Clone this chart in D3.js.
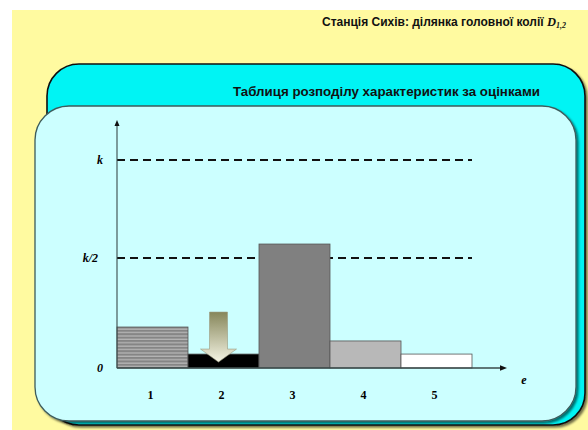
<!DOCTYPE html>
<html><head><meta charset="utf-8">
<script src="https://cdn.jsdelivr.net/npm/d3@7/dist/d3.min.js"></script>
<style>html,body{margin:0;padding:0;background:#fff}</style>
</head><body><svg id="c" width="588" height="430"></svg>
<script>
const categories = ["1","2","3","4","5"];
const values = [0.197, 0.067, 0.596, 0.130, 0.067]; // in units of k
const barFills = ["stripe","#000000","#808080","#b8b8b8","#ffffff"];
const tickValues = [0, 0.529, 1];
const tickLabels = ["0","k/2","k"];
const dashedLevels = [0.529, 1];
const title = "Станція Сихів: ділянка головної колії ";
const subtitle = "Таблиця розподілу характеристик за оцінками";

const svg = d3.select("#c");
const defs = svg.append("defs");
const pat = defs.append("pattern").attr("id","stripes").attr("patternUnits","userSpaceOnUse")
  .attr("width",10).attr("height",3.4);
pat.append("rect").attr("width",10).attr("height",3.4).attr("fill","#858585");
pat.append("rect").attr("y",2.2).attr("width",10).attr("height",1).attr("fill","#c4c4c4");
const grad = defs.append("linearGradient").attr("id","arr").attr("x1",0).attr("y1",0).attr("x2",0).attr("y2",1);
grad.append("stop").attr("offset","0").attr("stop-color","#86865a");
grad.append("stop").attr("offset","1").attr("stop-color","#f4f4e4");
const sh = defs.append("filter").attr("id","sh").attr("x","-5%").attr("y","-5%").attr("width","110%").attr("height","115%");
sh.append("feDropShadow").attr("dx",2).attr("dy",2).attr("stdDeviation",1.2).attr("flood-color","#000").attr("flood-opacity",0.55);

// background
svg.append("rect").attr("x",12).attr("y",10).attr("width",576).attr("height",420).attr("fill","#fffaa0");
const tt = svg.append("text").attr("x",566).attr("y",26).attr("text-anchor","end")
  .attr("font-family","Liberation Sans, Arial, sans-serif").attr("font-weight","bold").attr("font-size",12).attr("fill","#111");
tt.append("tspan").text(title);
tt.append("tspan").attr("font-family","Liberation Serif, serif").attr("font-style","italic").attr("font-size",12.5).text("D");
tt.append("tspan").attr("font-family","Liberation Serif, serif").attr("font-style","italic").attr("font-size",8).attr("dy",2).text("1,2");

// outer cyan box
svg.append("rect").attr("x",47).attr("y",64).attr("width",538).attr("height",361).attr("rx",32)
  .attr("fill","#00f4f4").attr("stroke","#111").attr("stroke-width",1.6).attr("filter","url(#sh)");
svg.append("text").attr("x",233).attr("y",96)
  .attr("font-family","Liberation Sans, Arial, sans-serif").attr("font-weight","bold").attr("font-size",12.5)
  .attr("textLength",307).attr("lengthAdjust","spacingAndGlyphs")
  .attr("fill","#111").text(subtitle);
// inner box
svg.append("rect").attr("x",35).attr("y",106).attr("width",541).attr("height",315).attr("rx",34)
  .attr("fill","#ccffff").attr("stroke","#3d5c5c").attr("stroke-width",1.3).attr("filter","url(#sh)");

// scales
const x = d3.scaleBand().domain(categories).range([117, 472]).padding(0);
const y = d3.scaleLinear().domain([0,1]).range([368,160]);

// dashed levels
svg.selectAll(".dl").data(dashedLevels).join("line")
  .attr("x1",x.range()[0]).attr("x2",x.range()[1]).attr("y1",d=>y(d)).attr("y2",d=>y(d))
  .attr("stroke","#111").attr("stroke-width",2).attr("stroke-dasharray","8,5");

// bars
svg.selectAll(".bar").data(values).join("rect")
  .attr("x",(d,i)=>x(categories[i])).attr("width",x.bandwidth())
  .attr("y",d=>y(d)).attr("height",d=>y(0)-y(d))
  .attr("fill",(d,i)=>barFills[i]==="stripe"?"url(#stripes)":barFills[i])
  .attr("stroke","#555").attr("stroke-width",0.8);

// arrow over bar 2
const cx = x("2") + x.bandwidth()/2 - 5;
const tipY = y(values[1]) + 8;
const arrowPath = d3.path();
arrowPath.moveTo(cx-9, tipY-50); arrowPath.lineTo(cx+9, tipY-50); arrowPath.lineTo(cx+9, tipY-13);
arrowPath.lineTo(cx+18, tipY-13); arrowPath.lineTo(cx, tipY); arrowPath.lineTo(cx-18, tipY-13);
arrowPath.lineTo(cx-9, tipY-13); arrowPath.closePath();
svg.append("path").attr("d",arrowPath.toString()).attr("fill","url(#arr)").attr("stroke","#9a9a80").attr("stroke-width",0.6);

// axes
const axCol = "#3a4a4a";
svg.append("line").attr("x1",117).attr("x2",117).attr("y1",y(0)).attr("y2",124).attr("stroke",axCol).attr("stroke-width",1.1);
svg.append("path").attr("d",`M117,120 L114.5,126 L119.5,126 Z`).attr("fill","#111");
svg.append("line").attr("x1",117).attr("x2",502).attr("y1",y(0)).attr("y2",y(0)).attr("stroke",axCol).attr("stroke-width",1.3);
svg.append("path").attr("d",`M507,${y(0)} L500,${y(0)-2.8} L500,${y(0)+2.8} Z`).attr("fill","#111");

const serif = "Liberation Serif, Times New Roman, serif";
svg.selectAll(".yl").data(tickValues).join("text")
  .attr("x",(d,i)=>i===1?98:103).attr("y",d=>y(d)+4).attr("text-anchor","end")
  .attr("font-family",serif).attr("font-weight","bold").attr("font-style","italic").attr("font-size",12)
  .text((d,i)=>tickLabels[i]);
svg.selectAll(".xl").data(categories).join("text")
  .attr("x",d=>x(d)+x.bandwidth()/2-2).attr("y",399).attr("text-anchor","middle")
  .attr("font-family",serif).attr("font-weight","bold").attr("font-size",12)
  .text(d=>d);
svg.append("text").attr("x",524).attr("y",384).attr("text-anchor","middle")
  .attr("font-family",serif).attr("font-weight","bold").attr("font-style","italic").attr("font-size",12).text("e");
</script></body></html>
